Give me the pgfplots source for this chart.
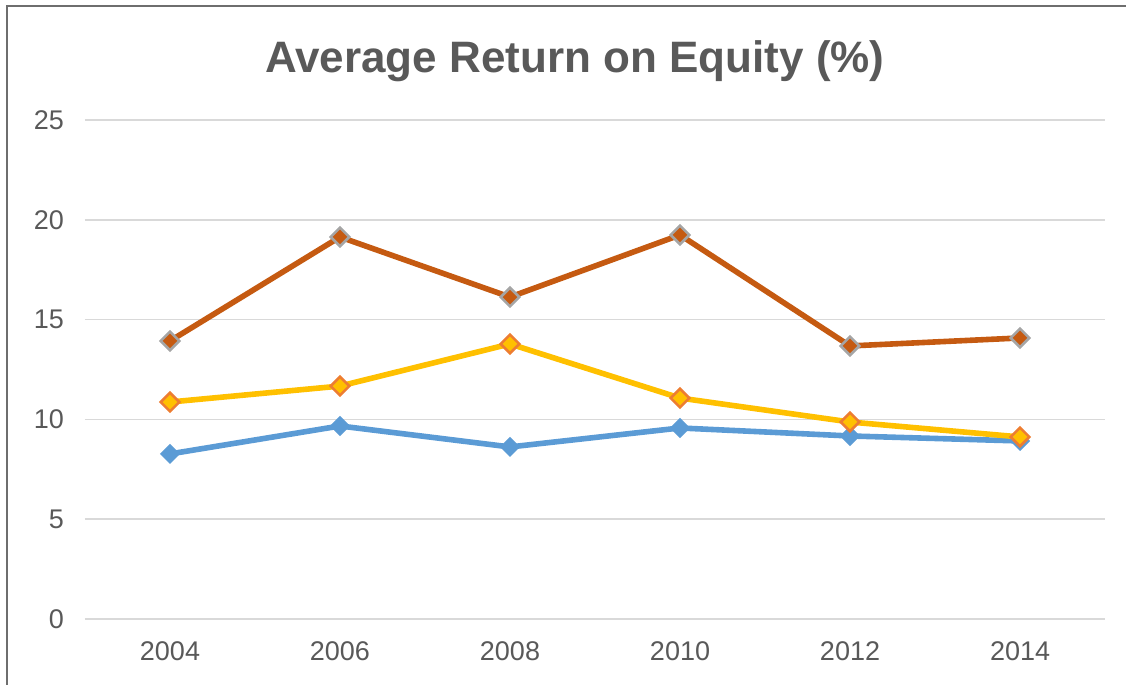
\documentclass[border=0pt]{standalone}
\usepackage{pgfplots}
\pgfplotsset{compat=1.18}
\usepackage{fontspec}
\setmainfont{Liberation Sans}
\definecolor{txt}{HTML}{595959}
\definecolor{gridc}{HTML}{D9D9D9}
\definecolor{cbrown}{HTML}{C55A11}
\definecolor{cyellow}{HTML}{FFC000}
\definecolor{cblue}{HTML}{5B9BD5}
\definecolor{cgray}{HTML}{A5A5A5}
\definecolor{corange}{HTML}{ED7D31}
\definecolor{frame}{HTML}{6E6E6E}
\begin{document}
\begin{tikzpicture}
\path[use as bounding box] (0,0) rectangle (563pt,342.5pt);
\draw[color=frame, line width=1.1pt] (3.5pt,-1pt) -- (3.5pt,339.5pt) -- (564pt,339.5pt);
\node[font=\bfseries\fontsize{22}{25}\selectfont, text=txt] at (287.5pt,312pt) {Average Return on Equity (\%)};
\begin{axis}[
  at={(42.5pt,33pt)}, anchor=south west,
  scale only axis, width=510pt, height=249.5pt,
  xmin=2003, xmax=2015, ymin=0, ymax=25,
  xtick={2004,2006,...,2014}, ytick={0,5,...,25},
  xticklabel style={/pgf/number format/1000 sep={}, yshift=-8pt},
  /pgf/number format/assume math mode=true,
  tick label style={font=\fontsize{13.5}{15}\selectfont, text=txt},
  yticklabel style={xshift=-7pt},
  axis x line*=bottom, axis y line*=left,
  x axis line style={draw=gridc, line width=0.8pt, -},
  y axis line style={draw=none},
  ymajorgrids, grid style={draw=gridc, line width=0.8pt},
  major tick length=0pt,
  clip=false,
]
\addplot[color=cbrown, line width=2.8pt, mark=square*, mark size=3.3pt,
  mark options={fill=cbrown, draw=cgray, line width=1.3pt, rotate=45}] coordinates {
  (2004,13.93) (2006,19.14) (2008,16.13) (2010,19.24) (2012,13.68) (2014,14.08)};
\addplot[color=cblue, line width=2.8pt, mark=square*, mark size=3.3pt,
  mark options={fill=cblue, draw=cblue, line width=0.5pt, rotate=45}] coordinates {
  (2004,8.27) (2006,9.67) (2008,8.62) (2010,9.57) (2012,9.17) (2014,8.92)};
\addplot[color=cyellow, line width=2.8pt, mark=square*, mark size=3.3pt,
  mark options={fill=cyellow, draw=corange, line width=1.3pt, rotate=45}] coordinates {
  (2004,10.87) (2006,11.67) (2008,13.78) (2010,11.07) (2012,9.87) (2014,9.12)};
\end{axis}
\end{tikzpicture}
\end{document}
